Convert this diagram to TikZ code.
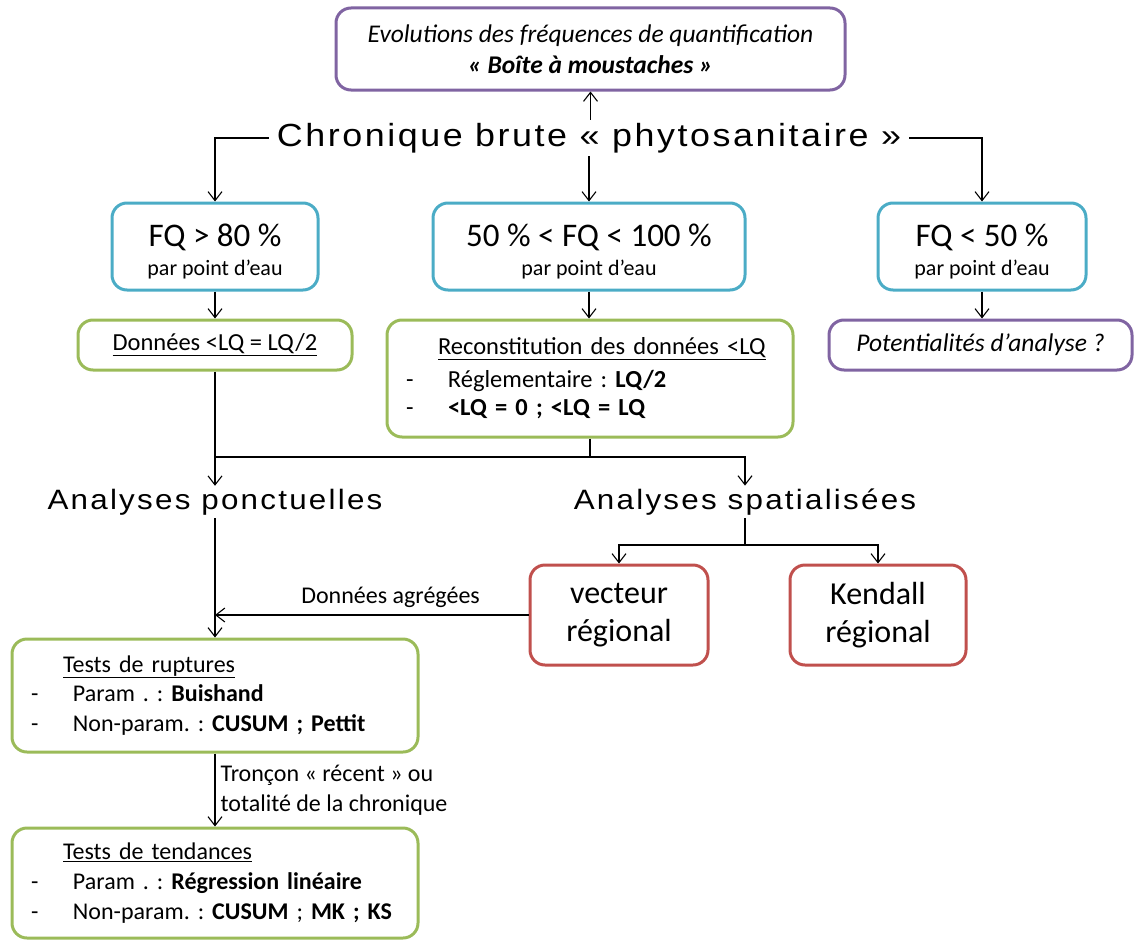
\documentclass[tikz,border=0pt]{standalone}
\usepackage{fontspec}
\setmainfont{Carlito}
\newfontfamily\headfont[LetterSpace=8,FakeStretch=1.12]{Liberation Sans}
\usetikzlibrary{arrows.meta}
\definecolor{cyanb}{RGB}{75,172,198}
\definecolor{greenb}{RGB}{155,187,89}
\definecolor{purpleb}{RGB}{128,100,162}
\definecolor{redb}{RGB}{192,80,77}
\tikzset{
  basebox/.style={draw, line width=3pt, rounded corners=15pt, inner sep=0pt, align=center},
  cyanbox/.style={basebox, draw=cyanb},
  greenbox/.style={basebox, draw=greenb},
  purplebox/.style={basebox, draw=purpleb},
  redbox/.style={basebox, draw=redb},
  listbox/.style={greenbox, inner xsep=19pt, align=left},
  headtext/.style={inner xsep=8pt, inner ysep=3pt},
  conn/.style={line width=1.1pt, black},
  arr/.style={conn, -{Straight Barb[length=9pt,width=14pt,line width=1.1pt]}},
  lbl/.style={font=\fontsize{24}{30}\selectfont, inner sep=0pt},
}
\newcommand{\bigfq}{\fontsize{33}{38}\selectfont\rule{0pt}{33pt}}
\newcommand{\smallfq}{\fontsize{22}{29}\selectfont}
\newcommand{\dashitem}{\makebox[42pt][l]{-}}
\begin{document}
\frenchspacing
\begin{tikzpicture}[x=1pt,y=-1pt]
\useasboundingbox (0,0) rectangle (1134,942);
% top box
\node[purplebox, minimum width=509pt, minimum height=82pt, font=\itshape\fontsize{25.5}{31}\selectfont] (top) at (590.5,49)
  {Evolutions des fréquences de quantification\\ \textbf{« Boîte à moustaches »}};
\node[headtext, font=\headfont\fontsize{32}{36}\selectfont] (chron) at (589,138) {Chronique brute « phytosanitaire »};
% FQ boxes
\node[cyanbox, minimum width=206pt, minimum height=87pt] (fq1) at (215,246.5)
  {\bigfq FQ > 80 \%\\[8pt] \smallfq par point d’eau};
\node[cyanbox, minimum width=312pt, minimum height=87pt] (fq2) at (589,246.5)
  {\bigfq 50 \% < FQ < 100 \%\\[8pt] \smallfq par point d’eau};
\node[cyanbox, minimum width=208pt, minimum height=87pt] (fq3) at (982,246.5)
  {\bigfq FQ < 50 \%\\[8pt] \smallfq par point d’eau};
% second row
\node[greenbox, minimum width=274pt, minimum height=50pt, font=\fontsize{24.5}{29}\selectfont] (don) at (215,345)
  {\underline{Données <LQ = LQ/2}};
\node[listbox, minimum width=406pt, minimum height=117pt, text width=368pt, font=\fontsize{24.5}{28}\selectfont] (rec) at (590,378.5)
  {\hspace*{32pt}\underline{Reconstitution des données <LQ}\\[5pt]
   \dashitem Réglementaire : \textbf{LQ/2}\\
   \dashitem \textbf{<LQ = 0 ; <LQ = LQ}};
\node[purplebox, minimum width=303pt, minimum height=50pt, font=\itshape\fontsize{25.5}{30}\selectfont] (pot) at (980.5,345)
  {Potentialités d’analyse ?};
% analyses
\node[headtext, font=\headfont\fontsize{28}{32}\selectfont] (ponct) at (215,502) {Analyses ponctuelles};
\node[headtext, font=\headfont\fontsize{28}{32}\selectfont] (spat) at (745,502) {Analyses spatialisées};
% red boxes
\node[redbox, minimum width=178pt, minimum height=100pt, font=\fontsize{32}{38}\selectfont] (vec) at (619,615)
  {vecteur\\régional};
\node[redbox, minimum width=176pt, minimum height=100pt, font=\fontsize{32}{38}\selectfont] (ken) at (878,615)
  {Kendall\\régional};
% tests
\node[listbox, minimum width=406pt, minimum height=113pt, text width=368pt, font=\fontsize{24}{29.5}\selectfont] (rup) at (215,695.5)
  {\hspace*{32pt}\underline{Tests de ruptures}\\
   \dashitem Param . : \textbf{Buishand}\\
   \dashitem Non-param. : \textbf{CUSUM ; Pettit}};
\node[listbox, minimum width=406pt, minimum height=110pt, text width=368pt, font=\fontsize{24}{30}\selectfont] (tend) at (215,883)
  {\hspace*{32pt}\underline{Tests de tendances}\\
   \dashitem Param . : \textbf{Régression linéaire}\\
   \dashitem Non-param. : \textbf{CUSUM} ; \textbf{MK ; KS}};
% connectors
\draw[arr] (top.south |- chron.north) -- (top.south);
\draw[arr] (chron.west) -| (fq1.north);
\draw[arr] (fq2.north |- chron.south) -- (fq2.north);
\draw[arr] (chron.east) -| (fq3.north);
\draw[arr] (fq1.south) -- (fq1.south |- don.north);
\draw[arr] (fq2.south) -- (fq2.south |- rec.north);
\draw[arr] (fq3.south) -- (fq3.south |- pot.north);
\coordinate (j) at (rec.south |- 0,457);
\coordinate (jl) at (don.south |- j);
\draw[arr] (don.south) -- (ponct.north -| don.south);
\draw[conn] (rec.south) -- (j);
\draw[conn] (jl) -- (j);
\draw[arr] (j) -| (spat.north);
\coordinate (sj) at (spat.south |- 0,545);
\draw[conn] (spat.south) -- (sj);
\draw[arr] (sj) -| (vec.north);
\draw[arr] (sj) -| (ken.north);
\draw[arr] (ponct.south -| rup.north) -- (rup.north);
\draw[arr] (vec.west) -- (vec.west -| rup.north)
  node[lbl, pos=0.44, above=7pt] (agg) {Données agrégées};
\draw[arr] (rup.south) -- (tend.north)
  node[lbl, pos=0.5, right=5pt, align=left] (tron) {Tronçon « récent » ou\\totalité de la chronique};
\end{tikzpicture}
\end{document}
